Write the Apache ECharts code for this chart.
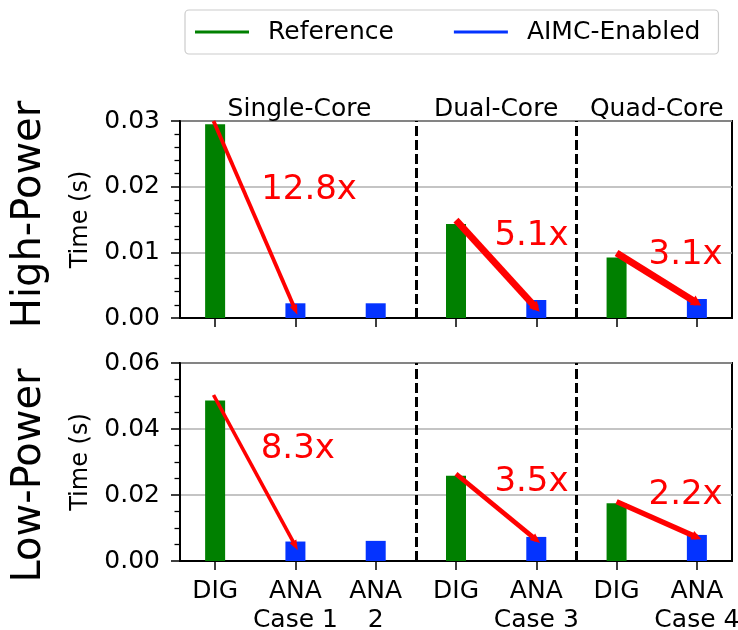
<!DOCTYPE html>
<html>
<head>
<meta charset="utf-8">
<script src="https://cdn.jsdelivr.net/npm/echarts@6/dist/echarts.min.js"></script>
<style>
html,body{margin:0;padding:0;background:#fff;}
#chart{width:738px;height:630px;}
</style>
</head>
<body>
<div id="chart"></div>
<script>
// ---------------- data ----------------
const xLabels = ['DIG', 'ANA\nCase 1', 'ANA\n2', 'DIG', 'ANA\nCase 3', 'DIG', 'ANA\nCase 4'];
const xPositions = [0, 1, 2, 3, 4, 5, 6];
const refPositions = [0, 3, 5];
const aimcPositions = [1, 2, 4, 6];

const highRef = [0.0295, 0.0143, 0.0092];
const highAimc = [0.00224, 0.00224, 0.00274, 0.00289];
const lowRef = [0.0486, 0.0258, 0.0175];
const lowAimc = [0.0059, 0.0061, 0.0073, 0.0079];

const highYTicks = [0, 0.01, 0.02, 0.03];
const lowYTicks = [0, 0.02, 0.04, 0.06];

const groupTitles = ['Single-Core', 'Dual-Core', 'Quad-Core'];
const groupTitleX = [1.05, 3.5, 5.5];
const dividerX = [2.5, 4.5];

const speedupLabels = [['12.8x', '5.1x', '3.1x'], ['8.3x', '3.5x', '2.2x']];
const speedupLabelX = [[1.17, 3.94, 5.86], [1.03, 3.94, 5.86]];
const speedupLabelY = [[0.0194, 0.0124, 0.0096], [0.0338, 0.0238, 0.0198]];

const arrowFrom = [[[-0.02, 0.02999], [3, 0.0149], [5, 0.0099]], [[-0.02, 0.0503], [3, 0.0264], [5, 0.0180]]];
const arrowTo = [[[1, 0.0012], [4, 0.0015], [6, 0.0023]], [[1, 0.0046], [4, 0.0064], [6, 0.0072]]];
const arrowWidth = [[3.8, 6.8, 7], [3.6, 4.6, 5.4]];

const rowLabels = ['High-Power', 'Low-Power'];

// ---------------- layout ----------------
const FONT = 'DejaVu Sans';
const grids = [
  {left: 180, top: 121, width: 552, height: 197},
  {left: 180, top: 363, width: 552, height: 198}
];
const rowLabelOffset = [-5, 13.5];
const GREEN = '#008000', BLUE = '#0433ff', RED = '#ff0000';

function pairs(xs, ys) { return xs.map((x, i) => [x, ys[i]]); }

const rows = [
  {ref: highRef, aimc: highAimc, ticks: highYTicks, minor: 5},
  {ref: lowRef, aimc: lowAimc, ticks: lowYTicks, minor: 4}
];

const xAxes = rows.map((r, gi) => ({
  type: 'value', gridIndex: gi, min: -0.4375, max: 6.4375,
  splitLine: {show: false},
  axisLine: {show: true, onZero: false, lineStyle: {color: '#000', width: 2}},
  axisTick: {show: true, customValues: xPositions, length: 9, lineStyle: {color: '#000', width: 1.5}},
  axisLabel: {
    show: gi === 1, customValues: xPositions,
    formatter: v => xLabels[Math.round(v)],
    fontFamily: FONT, fontSize: 25, lineHeight: 29, color: '#000', margin: 16
  }
}));

const yAxes = rows.map((r, gi) => {
  const step = r.ticks[1] - r.ticks[0];
  return {
    type: 'value', gridIndex: gi, min: r.ticks[0], max: r.ticks[r.ticks.length - 1], interval: step,
    axisLine: {show: true, onZero: false, lineStyle: {color: '#000', width: 2}},
    axisTick: {show: true, length: 9, lineStyle: {color: '#000', width: 1.5}},
    minorTick: {show: true, splitNumber: r.minor, length: 5.5, lineStyle: {color: '#000', width: 1.3}},
    minorSplitLine: {show: false},
    splitLine: {show: true, lineStyle: {color: '#b0b0b0', width: 1.5}},
    axisLabel: {formatter: v => v.toFixed(2), fontFamily: FONT, fontSize: 25, color: '#000', margin: 20},
    name: 'Time (s)', nameLocation: 'middle', nameGap: 87,
    nameTextStyle: {fontFamily: FONT, fontSize: 24, color: '#000'}
  };
});

const series = [];
rows.forEach((r, gi) => {
  series.push({
    name: 'Reference', type: 'bar', xAxisIndex: gi, yAxisIndex: gi,
    data: pairs(refPositions, r.ref), barWidth: 20, barGap: '-100%',
    itemStyle: {color: GREEN}, z: 3,
    markLine: {
      silent: true, symbol: 'none', animation: false,
      label: {show: false},
      lineStyle: {color: '#000', width: 3, type: [10, 4]},
      data: dividerX.map(x => ({xAxis: x}))
    }
  });
  series.push({
    name: 'AIMC-Enabled', type: 'bar', xAxisIndex: gi, yAxisIndex: gi,
    data: pairs(aimcPositions, r.aimc), barWidth: 20, barGap: '-100%',
    itemStyle: {color: BLUE}, z: 3,
    markLine: {
      silent: true, animation: false, symbol: ['none', 'triangle'],
      label: {show: false},
      data: arrowFrom[gi].map((f, k) => {
        const w = arrowWidth[gi][k];
        return [
          {coord: f, symbol: 'none'},
          {coord: arrowTo[gi][k], symbol: 'triangle', symbolSize: [w + 4, 10],
           lineStyle: {color: RED, width: w, type: 'solid'}}
        ];
      })
    }
  });
  series.push({
    type: 'scatter', xAxisIndex: gi, yAxisIndex: gi, symbolSize: 0, silent: true, z: 5,
    itemStyle: {opacity: 1},
    data: speedupLabels[gi].map((t, k) => ({name: t, value: [speedupLabelX[gi][k], speedupLabelY[gi][k]]})),
    label: {show: true, position: 'inside', formatter: '{b}', color: RED, opacity: 1, fontFamily: FONT, fontSize: 34}
  });
});

const option = {
  animation: false,
  backgroundColor: '#fff',
  grid: grids.map(g => Object.assign({
    show: true, borderColor: '#000', borderWidth: 2, backgroundColor: 'transparent',
    containLabel: false, outerBoundsMode: 'none'
  }, g)),
  legend: {
    data: ['Reference', 'AIMC-Enabled'],
    left: 185, top: 10, selectedMode: false,
    icon: 'rect', itemWidth: 54, itemHeight: 3, itemGap: 60,
    padding: [9, 18, 9, 10],
    borderColor: '#cccccc', borderWidth: 1.2, borderRadius: 4,
    textStyle: {fontFamily: FONT, fontSize: 25, color: '#000', lineHeight: 26, padding: [0, 0, 0, 14]}
  },
  xAxis: xAxes,
  yAxis: yAxes,
  series: series
};

const chart = echarts.init(document.getElementById('chart'), null, {renderer: 'canvas'});
chart.setOption(option);

// titles & row labels positioned from grid coordinates
const graphics = [];
groupTitles.forEach((t, k) => {
  const p = chart.convertToPixel({gridIndex: 0}, [groupTitleX[k], highYTicks[highYTicks.length - 1]]);
  graphics.push({type: 'text', x: p[0], y: p[1] - 12,
    style: {text: t, fontFamily: FONT, fontSize: 25, fill: '#000', align: 'center', verticalAlign: 'middle'}});
});
rowLabels.forEach((t, gi) => {
  const g = grids[gi];
  graphics.push({type: 'text', x: 30, y: g.top + g.height / 2 + rowLabelOffset[gi], rotation: Math.PI / 2,
    style: {text: t, fontFamily: FONT, fontSize: 40, fill: '#000', align: 'center', verticalAlign: 'middle'}});
});
chart.setOption({graphic: graphics});
</script>
</body>
</html>
